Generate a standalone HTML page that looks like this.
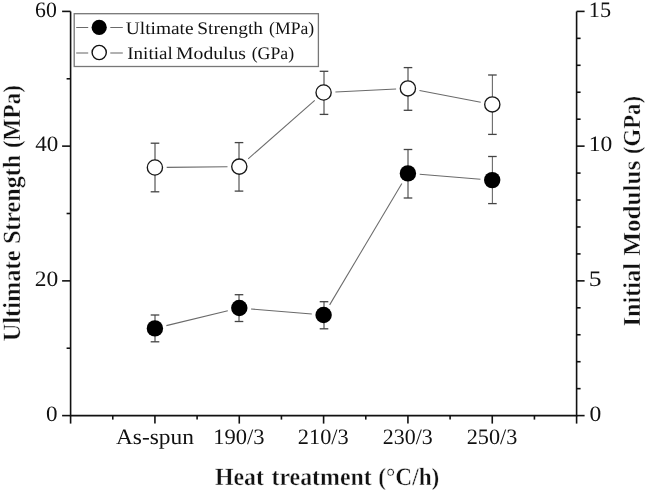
<!DOCTYPE html>
<html><head><meta charset="utf-8"><style>
html,body{margin:0;padding:0;background:#fff;width:645px;height:490px;overflow:hidden}
svg{display:block;text-rendering:geometricPrecision;will-change:transform}
</style></head><body>
<svg width="645" height="490" viewBox="0 0 645 490">
<path d="M70.6 11.4 V415.6 H576.60 V11.4" stroke="#111" stroke-width="1.6" fill="none"/>
<line x1="62.10" y1="415.60" x2="70.6" y2="415.60" stroke="#111" stroke-width="1.6" fill="none"/>
<line x1="66.60" y1="348.23" x2="70.6" y2="348.23" stroke="#111" stroke-width="1.6" fill="none"/>
<line x1="62.10" y1="280.87" x2="70.6" y2="280.87" stroke="#111" stroke-width="1.6" fill="none"/>
<line x1="66.60" y1="213.50" x2="70.6" y2="213.50" stroke="#111" stroke-width="1.6" fill="none"/>
<line x1="62.10" y1="146.13" x2="70.6" y2="146.13" stroke="#111" stroke-width="1.6" fill="none"/>
<line x1="66.60" y1="78.77" x2="70.6" y2="78.77" stroke="#111" stroke-width="1.6" fill="none"/>
<line x1="62.10" y1="11.40" x2="70.6" y2="11.40" stroke="#111" stroke-width="1.6" fill="none"/>
<line x1="576.60" y1="415.60" x2="584.60" y2="415.60" stroke="#111" stroke-width="1.6" fill="none"/>
<line x1="576.60" y1="388.65" x2="580.60" y2="388.65" stroke="#111" stroke-width="1.6" fill="none"/>
<line x1="576.60" y1="361.71" x2="580.60" y2="361.71" stroke="#111" stroke-width="1.6" fill="none"/>
<line x1="576.60" y1="334.76" x2="580.60" y2="334.76" stroke="#111" stroke-width="1.6" fill="none"/>
<line x1="576.60" y1="307.81" x2="580.60" y2="307.81" stroke="#111" stroke-width="1.6" fill="none"/>
<line x1="576.60" y1="280.87" x2="584.60" y2="280.87" stroke="#111" stroke-width="1.6" fill="none"/>
<line x1="576.60" y1="253.92" x2="580.60" y2="253.92" stroke="#111" stroke-width="1.6" fill="none"/>
<line x1="576.60" y1="226.97" x2="580.60" y2="226.97" stroke="#111" stroke-width="1.6" fill="none"/>
<line x1="576.60" y1="200.03" x2="580.60" y2="200.03" stroke="#111" stroke-width="1.6" fill="none"/>
<line x1="576.60" y1="173.08" x2="580.60" y2="173.08" stroke="#111" stroke-width="1.6" fill="none"/>
<line x1="576.60" y1="146.13" x2="584.60" y2="146.13" stroke="#111" stroke-width="1.6" fill="none"/>
<line x1="576.60" y1="119.19" x2="580.60" y2="119.19" stroke="#111" stroke-width="1.6" fill="none"/>
<line x1="576.60" y1="92.24" x2="580.60" y2="92.24" stroke="#111" stroke-width="1.6" fill="none"/>
<line x1="576.60" y1="65.29" x2="580.60" y2="65.29" stroke="#111" stroke-width="1.6" fill="none"/>
<line x1="576.60" y1="38.35" x2="580.60" y2="38.35" stroke="#111" stroke-width="1.6" fill="none"/>
<line x1="576.60" y1="11.40" x2="584.60" y2="11.40" stroke="#111" stroke-width="1.6" fill="none"/>
<line x1="70.60" y1="415.6" x2="70.60" y2="423.6" stroke="#111" stroke-width="1.6" fill="none"/>
<line x1="112.77" y1="415.6" x2="112.77" y2="419.6" stroke="#111" stroke-width="1.6" fill="none"/>
<line x1="154.93" y1="415.6" x2="154.93" y2="423.6" stroke="#111" stroke-width="1.6" fill="none"/>
<line x1="197.10" y1="415.6" x2="197.10" y2="419.6" stroke="#111" stroke-width="1.6" fill="none"/>
<line x1="239.27" y1="415.6" x2="239.27" y2="423.6" stroke="#111" stroke-width="1.6" fill="none"/>
<line x1="281.43" y1="415.6" x2="281.43" y2="419.6" stroke="#111" stroke-width="1.6" fill="none"/>
<line x1="323.60" y1="415.6" x2="323.60" y2="423.6" stroke="#111" stroke-width="1.6" fill="none"/>
<line x1="365.77" y1="415.6" x2="365.77" y2="419.6" stroke="#111" stroke-width="1.6" fill="none"/>
<line x1="407.93" y1="415.6" x2="407.93" y2="423.6" stroke="#111" stroke-width="1.6" fill="none"/>
<line x1="450.10" y1="415.6" x2="450.10" y2="419.6" stroke="#111" stroke-width="1.6" fill="none"/>
<line x1="492.26" y1="415.6" x2="492.26" y2="423.6" stroke="#111" stroke-width="1.6" fill="none"/>
<line x1="534.43" y1="415.6" x2="534.43" y2="419.6" stroke="#111" stroke-width="1.6" fill="none"/>
<line x1="576.60" y1="415.6" x2="576.60" y2="423.6" stroke="#111" stroke-width="1.6" fill="none"/>
<rect x="74.2" y="13.7" width="244.2" height="52.8" fill="#fff" stroke="#777" stroke-width="1.3"/>
<line x1="166.37" y1="325.63" x2="227.83" y2="310.77" stroke="#6a6a6a" stroke-width="1.05"/>
<line x1="251.06" y1="308.98" x2="311.84" y2="314.02" stroke="#6a6a6a" stroke-width="1.05"/>
<line x1="329.64" y1="304.86" x2="401.86" y2="183.54" stroke="#6a6a6a" stroke-width="1.05"/>
<line x1="419.66" y1="174.33" x2="480.44" y2="179.17" stroke="#6a6a6a" stroke-width="1.05"/>
<line x1="166.70" y1="167.37" x2="227.50" y2="166.73" stroke="#6a6a6a" stroke-width="1.05"/>
<line x1="248.16" y1="158.81" x2="314.74" y2="100.29" stroke="#6a6a6a" stroke-width="1.05"/>
<line x1="335.39" y1="91.93" x2="396.11" y2="88.97" stroke="#6a6a6a" stroke-width="1.05"/>
<line x1="419.49" y1="90.60" x2="480.71" y2="102.20" stroke="#6a6a6a" stroke-width="1.05"/>
<line x1="155" y1="315" x2="155" y2="341.8" stroke="#333" stroke-width="1"/>
<line x1="150.70" y1="315" x2="159.30" y2="315" stroke="#444" stroke-width="1.3"/>
<line x1="150.70" y1="341.8" x2="159.30" y2="341.8" stroke="#444" stroke-width="1.3"/>
<line x1="239" y1="294.7" x2="239" y2="321.5" stroke="#333" stroke-width="1"/>
<line x1="234.70" y1="294.7" x2="243.30" y2="294.7" stroke="#444" stroke-width="1.3"/>
<line x1="234.70" y1="321.5" x2="243.30" y2="321.5" stroke="#444" stroke-width="1.3"/>
<line x1="324" y1="301.7" x2="324" y2="328.8" stroke="#333" stroke-width="1"/>
<line x1="319.70" y1="301.7" x2="328.30" y2="301.7" stroke="#444" stroke-width="1.3"/>
<line x1="319.70" y1="328.8" x2="328.30" y2="328.8" stroke="#444" stroke-width="1.3"/>
<line x1="408" y1="149.5" x2="408" y2="198" stroke="#333" stroke-width="1"/>
<line x1="403.70" y1="149.5" x2="412.30" y2="149.5" stroke="#444" stroke-width="1.3"/>
<line x1="403.70" y1="198" x2="412.30" y2="198" stroke="#444" stroke-width="1.3"/>
<line x1="492.4" y1="156.5" x2="492.4" y2="203.6" stroke="#6a6a6a" stroke-width="1.1"/>
<line x1="488.10" y1="156.5" x2="496.70" y2="156.5" stroke="#444" stroke-width="1.3"/>
<line x1="488.10" y1="203.6" x2="496.70" y2="203.6" stroke="#444" stroke-width="1.3"/>
<line x1="155" y1="143.2" x2="155" y2="191.8" stroke="#333" stroke-width="1"/>
<line x1="150.70" y1="143.2" x2="159.30" y2="143.2" stroke="#444" stroke-width="1.3"/>
<line x1="150.70" y1="191.8" x2="159.30" y2="191.8" stroke="#444" stroke-width="1.3"/>
<line x1="239" y1="142.6" x2="239" y2="191.1" stroke="#333" stroke-width="1"/>
<line x1="234.70" y1="142.6" x2="243.30" y2="142.6" stroke="#444" stroke-width="1.3"/>
<line x1="234.70" y1="191.1" x2="243.30" y2="191.1" stroke="#444" stroke-width="1.3"/>
<line x1="324" y1="71.3" x2="324" y2="114.4" stroke="#333" stroke-width="1"/>
<line x1="319.70" y1="71.3" x2="328.30" y2="71.3" stroke="#444" stroke-width="1.3"/>
<line x1="319.70" y1="114.4" x2="328.30" y2="114.4" stroke="#444" stroke-width="1.3"/>
<line x1="408" y1="67.6" x2="408" y2="110.3" stroke="#333" stroke-width="1"/>
<line x1="403.70" y1="67.6" x2="412.30" y2="67.6" stroke="#444" stroke-width="1.3"/>
<line x1="403.70" y1="110.3" x2="412.30" y2="110.3" stroke="#444" stroke-width="1.3"/>
<line x1="492.4" y1="75" x2="492.4" y2="134.4" stroke="#6a6a6a" stroke-width="1.1"/>
<line x1="488.10" y1="75" x2="496.70" y2="75" stroke="#444" stroke-width="1.3"/>
<line x1="488.10" y1="134.4" x2="496.70" y2="134.4" stroke="#444" stroke-width="1.3"/>
<circle cx="154.9" cy="328.4" r="8.2" fill="#000"/>
<circle cx="239.3" cy="308" r="8.2" fill="#000"/>
<circle cx="323.6" cy="315" r="8.2" fill="#000"/>
<circle cx="407.9" cy="173.4" r="8.2" fill="#000"/>
<circle cx="492.2" cy="180.1" r="8.2" fill="#000"/>
<circle cx="154.9" cy="167.5" r="7.6" fill="#fff" stroke="#181818" stroke-width="1.35"/>
<circle cx="239.3" cy="166.6" r="7.6" fill="#fff" stroke="#181818" stroke-width="1.35"/>
<circle cx="323.6" cy="92.5" r="7.6" fill="#fff" stroke="#181818" stroke-width="1.35"/>
<circle cx="407.9" cy="88.4" r="7.6" fill="#fff" stroke="#181818" stroke-width="1.35"/>
<circle cx="492.3" cy="104.4" r="7.6" fill="#fff" stroke="#181818" stroke-width="1.35"/>
<line x1="76.2" y1="27.5" x2="88.2" y2="27.5" stroke="#6a6a6a" stroke-width="1.05"/>
<line x1="110.3" y1="27.5" x2="122.8" y2="27.5" stroke="#6a6a6a" stroke-width="1.05"/>
<circle cx="99.2" cy="27.4" r="7.6" fill="#000"/>
<line x1="76.2" y1="53" x2="88.2" y2="53" stroke="#6a6a6a" stroke-width="1.05"/>
<line x1="110.3" y1="53" x2="122.8" y2="53" stroke="#6a6a6a" stroke-width="1.05"/>
<circle cx="99.2" cy="52.5" r="7.1" fill="#fff" stroke="#111" stroke-width="1.4"/>
<text x="35.05" y="16.8" font-size="22" font-family="'Liberation Serif', serif" fill="#111" textLength="21.74" lengthAdjust="spacingAndGlyphs">60</text>
<text x="35.26" y="150.9" font-size="22" font-family="'Liberation Serif', serif" fill="#111" textLength="22.99" lengthAdjust="spacingAndGlyphs">40</text>
<text x="34.82" y="285.9" font-size="22" font-family="'Liberation Serif', serif" fill="#111" textLength="23.49" lengthAdjust="spacingAndGlyphs">20</text>
<text x="45.99" y="420.9" font-size="22" font-family="'Liberation Serif', serif" fill="#111" textLength="11.54" lengthAdjust="spacingAndGlyphs">0</text>
<text x="588.83" y="16.8" font-size="22" font-family="'Liberation Serif', serif" fill="#111" textLength="22.25" lengthAdjust="spacingAndGlyphs">15</text>
<text x="588.65" y="150.9" font-size="22" font-family="'Liberation Serif', serif" fill="#111" textLength="23.55" lengthAdjust="spacingAndGlyphs">10</text>
<text x="588.74" y="285.9" font-size="22" font-family="'Liberation Serif', serif" fill="#111" textLength="12.78" lengthAdjust="spacingAndGlyphs">5</text>
<text x="589.59" y="420.9" font-size="22" font-family="'Liberation Serif', serif" fill="#111" textLength="11.78" lengthAdjust="spacingAndGlyphs">0</text>
<text x="115.90" y="444.0" font-size="22" font-family="'Liberation Serif', serif" fill="#111" textLength="78.10" lengthAdjust="spacingAndGlyphs">As-spun</text>
<text x="213.27" y="444.0" font-size="22" font-family="'Liberation Serif', serif" fill="#111" textLength="51.29" lengthAdjust="spacingAndGlyphs">190/3</text>
<text x="297.83" y="444.0" font-size="22" font-family="'Liberation Serif', serif" fill="#111" textLength="50.81" lengthAdjust="spacingAndGlyphs">210/3</text>
<text x="382.80" y="444.0" font-size="22" font-family="'Liberation Serif', serif" fill="#111" textLength="49.87" lengthAdjust="spacingAndGlyphs">230/3</text>
<text x="466.78" y="444.0" font-size="22" font-family="'Liberation Serif', serif" fill="#111" textLength="50.55" lengthAdjust="spacingAndGlyphs">250/3</text>
<text x="125.76" y="33.5" font-size="17.7" font-family="'Liberation Serif', serif" fill="#111" textLength="67.82" lengthAdjust="spacingAndGlyphs">Ultimate</text>
<text x="197.35" y="33.5" font-size="17.7" font-family="'Liberation Serif', serif" fill="#111" textLength="65.59" lengthAdjust="spacingAndGlyphs">Strength</text>
<text x="269.10" y="33.5" font-size="17.7" font-family="'Liberation Serif', serif" fill="#111" textLength="45.09" lengthAdjust="spacingAndGlyphs">(MPa)</text>
<text x="127.22" y="58.7" font-size="17.7" font-family="'Liberation Serif', serif" fill="#111" textLength="45.51" lengthAdjust="spacingAndGlyphs">Initial</text>
<text x="176.11" y="58.7" font-size="17.7" font-family="'Liberation Serif', serif" fill="#111" textLength="69.89" lengthAdjust="spacingAndGlyphs">Modulus</text>
<text x="251.65" y="58.7" font-size="17.7" font-family="'Liberation Serif', serif" fill="#111" textLength="42.45" lengthAdjust="spacingAndGlyphs">(GPa)</text>
<text x="214.90" y="485.4" font-size="24.8" font-family="'Liberation Serif', serif" font-weight="bold" stroke="#fff" stroke-width="0.4" fill="#111" textLength="49.01" lengthAdjust="spacingAndGlyphs">Heat</text>
<text x="271.44" y="485.4" font-size="24.8" font-family="'Liberation Serif', serif" font-weight="bold" stroke="#fff" stroke-width="0.4" fill="#111" textLength="100.29" lengthAdjust="spacingAndGlyphs">treatment</text>
<text x="378.30" y="485.4" font-size="24.8" font-family="'Liberation Serif', serif" font-weight="bold" stroke="#fff" stroke-width="0.4" fill="#111" textLength="61.07" lengthAdjust="spacingAndGlyphs">(°C/h)</text>
<text transform="translate(19.9,341.37) rotate(-90)" x="0" y="0" font-size="24.8" font-family="'Liberation Serif', serif" font-weight="bold" stroke="#fff" stroke-width="0.4" fill="#111" textLength="90.93" lengthAdjust="spacingAndGlyphs">Ultimate</text>
<text transform="translate(19.9,244.11) rotate(-90)" x="0" y="0" font-size="24.8" font-family="'Liberation Serif', serif" font-weight="bold" stroke="#fff" stroke-width="0.4" fill="#111" textLength="89.33" lengthAdjust="spacingAndGlyphs">Strength</text>
<text transform="translate(19.9,148.08) rotate(-90)" x="0" y="0" font-size="24.8" font-family="'Liberation Serif', serif" font-weight="bold" stroke="#fff" stroke-width="0.4" fill="#111" textLength="62.92" lengthAdjust="spacingAndGlyphs">(MPa)</text>
<text transform="translate(640.1,326.44) rotate(-90)" x="0" y="0" font-size="24.5" font-family="'Liberation Serif', serif" font-weight="bold" stroke="#fff" stroke-width="0.4" fill="#111" textLength="63.47" lengthAdjust="spacingAndGlyphs">Initial</text>
<text transform="translate(640.1,255.66) rotate(-90)" x="0" y="0" font-size="24.5" font-family="'Liberation Serif', serif" font-weight="bold" stroke="#fff" stroke-width="0.4" fill="#111" textLength="94.96" lengthAdjust="spacingAndGlyphs">Modulus</text>
<text transform="translate(640.1,154.08) rotate(-90)" x="0" y="0" font-size="24.5" font-family="'Liberation Serif', serif" font-weight="bold" stroke="#fff" stroke-width="0.4" fill="#111" textLength="58.06" lengthAdjust="spacingAndGlyphs">(GPa)</text>
</svg>
</body></html>
